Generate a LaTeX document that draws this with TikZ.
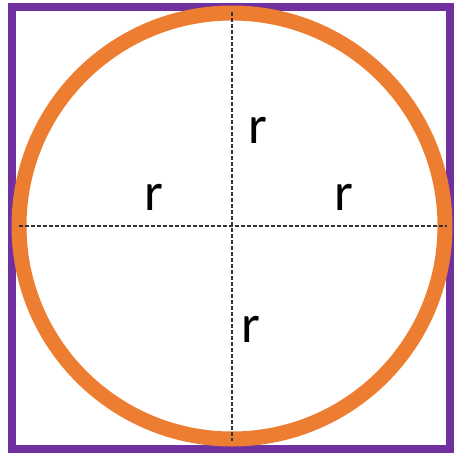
\documentclass[tikz,border=0pt]{standalone}
\usepackage{fontspec}
\setmainfont{Carlito}
\usepackage{tikz}
\usepackage{xcolor}
\definecolor{ringorange}{HTML}{ED7D31}
\definecolor{boxpurple}{HTML}{7030A0}

\begin{document}
\begin{tikzpicture}[x=0.3mm, y=-0.3mm,
    radius line/.style={draw=black!80, line width=0.45mm, dash pattern=on 1.2mm off 0.6mm},
    rlabel/.style={anchor=base, inner sep=0pt, font=\fontsize{46}{55}\selectfont}]
\useasboundingbox (0,0) rectangle (453,453);
\draw[boxpurple, line width=2.4mm] (12,7) rectangle (450,449);
\coordinate (C) at (232,226);
\draw[ringorange, line width=4.5mm] (C) circle (213);
    \coordinate (T) at (232,12);
    \coordinate (B) at (232,441);
    \coordinate (L) at (19,226);
    \coordinate (R) at (447,226);
    \draw[radius line] (T)--(B);
    \draw[radius line] (L)--(R);
    \node[rlabel] (rT) at (258,143) {r};
    \node[rlabel] (rL) at (154,210) {r};
    \node[rlabel] (rR) at (344,210) {r};
    \node[rlabel] (rB) at (251,342) {r};
\end{tikzpicture}
\end{document}
